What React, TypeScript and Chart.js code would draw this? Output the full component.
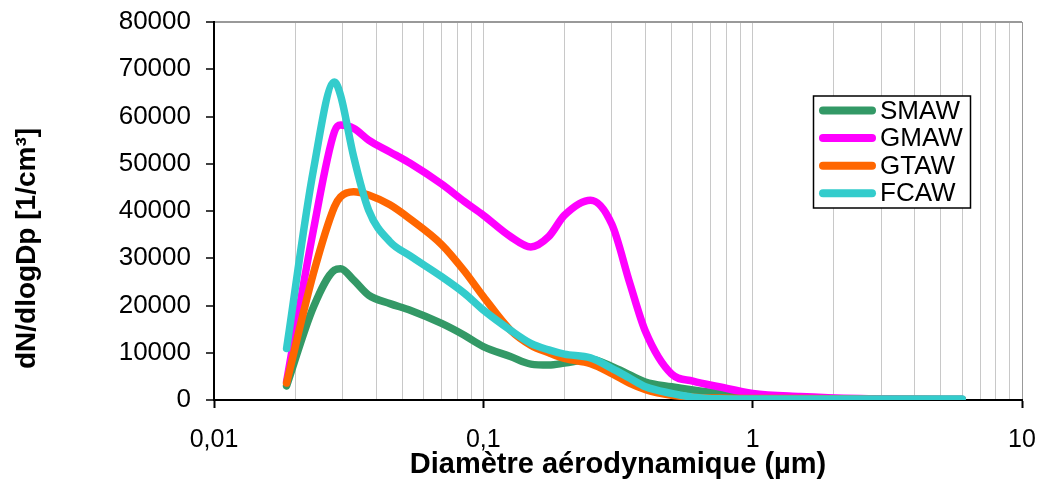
import React, { useEffect, useRef } from 'react';
import { Chart, registerables } from 'chart.js';

Chart.register(...registerables);

const FONT = "'Liberation Sans', Arial, Helvetica, sans-serif";

// Aerodynamic diameter (µm) of the sampled points
const diameters = [
  0.0186, 0.0234, 0.028, 0.0295, 0.033, 0.0375, 0.045, 0.0535, 0.07, 0.085,
  0.1, 0.126, 0.15, 0.175, 0.2, 0.25, 0.3, 0.35, 0.4, 0.5, 0.6, 0.75, 1.0, 1.5, 2.5, 4, 6,
];

// dN/dlogDp [1/cm³] per process
const smaw = [
  3000, 19700, 27500, 27800, 25400, 22200, 20400, 19000, 16200, 13700,
  11300, 9200, 7600, 7400, 7800, 8600, 7100, 5300, 3800, 2800, 2100, 1400, 600, 250, 150, 100, 100,
];
const gmaw = [
  3900, 36000, 56800, 58200, 57500, 55000, 52500, 50100, 45700, 42000,
  39100, 34600, 32400, 34600, 39100, 42300, 37200, 24700, 14500, 5500, 4000, 2800, 1400, 750, 300, 150, 100,
];
const gtaw = [
  3600, 26800, 40900, 43000, 44100, 43400, 41300, 38300, 32900, 27300,
  21900, 14800, 11600, 10000, 8800, 7700, 5600, 3500, 2200, 1000, 600, 400, 300, 300, 200, 150, 100,
];
const fcaw = [
  10900, 48700, 67300, 64500, 51500, 40200, 33500, 30500, 26100, 22600,
  19050, 14800, 12000, 10600, 9700, 8900, 6700, 4600, 2800, 1400, 600, 250, 200, 200, 200, 200, 200,
];

const seriesLabels = ['SMAW', 'GMAW', 'GTAW', 'FCAW'];
const seriesColors = ['#339966', '#FF00FF', '#FF6600', '#33CCCC'];

const xMajorTicks = [0.01, 0.1, 1, 10];
const xMajorLabels = ['0,01', '0,1', '1', '10'];
const xMinorMultipliers = [1, 2, 3, 4, 5, 6, 7, 8, 9];
const yMin = 0;
const yMax = 80000;
const yStep = 10000;

const xAxisTitle = 'Diamètre aérodynamique (µm)';
const yAxisTitle = 'dN/dlogDp [1/cm³]';

const close = (a: number, b: number) => Math.abs(a - b) / Math.abs(b) < 1e-6;
const majorIndex = (v: number) => xMajorTicks.findIndex((m) => close(v, m));

const overlayPlugin = {
  id: 'overlay',
  afterDraw(chart: any) {
    const ctx = chart.ctx as CanvasRenderingContext2D;
    ctx.save();
    // legend box
    const bx = 813.5, by = 96, bw = 157, bh = 112;
    ctx.fillStyle = '#ffffff';
    ctx.fillRect(bx, by, bw, bh);
    ctx.strokeStyle = '#000';
    ctx.lineWidth = 1.5;
    ctx.strokeRect(bx, by, bw, bh);
    chart.data.datasets.forEach((ds: any, i: number) => {
      const y = 110.5 + i * 27.6;
      ctx.strokeStyle = ds.borderColor;
      ctx.lineWidth = 8;
      ctx.lineCap = 'round';
      ctx.beginPath();
      ctx.moveTo(823, y);
      ctx.lineTo(872, y);
      ctx.stroke();
      ctx.fillStyle = '#000';
      ctx.font = `26px ${FONT}`;
      ctx.textAlign = 'left';
      ctx.textBaseline = 'middle';
      ctx.fillText(ds.label, 880, y + 1);
    });
    // y-axis title
    ctx.translate(27, 248.5);
    ctx.rotate(-Math.PI / 2);
    ctx.font = `bold 28px ${FONT}`;
    ctx.textAlign = 'center';
    ctx.textBaseline = 'middle';
    ctx.fillStyle = '#000';
    ctx.fillText(yAxisTitle, 0, 0);
    ctx.restore();
  },
};

export default function App() {
  const ref = useRef<HTMLCanvasElement | null>(null);

  useEffect(() => {
    const canvas = ref.current;
    if (!canvas) return;
    const values = [smaw, gmaw, gtaw, fcaw];
    const datasets = seriesLabels.map((label, i) => ({
      label,
      data: diameters.map((d, j) => ({ x: d, y: values[i][j] })),
      borderColor: seriesColors[i],
      backgroundColor: seriesColors[i],
      borderWidth: 7.5,
      pointRadius: 0,
      pointHoverRadius: 0,
      cubicInterpolationMode: 'monotone' as const,
      borderCapStyle: 'round' as const,
      borderJoinStyle: 'round' as const,
      fill: false,
      order: seriesLabels.length - i,
    }));

    const xTicks: number[] = [];
    for (let k = 0; k < xMajorTicks.length - 1; k++) {
      xMinorMultipliers.forEach((m) => xTicks.push(+(m * xMajorTicks[k]).toPrecision(6)));
    }
    xTicks.push(xMajorTicks[xMajorTicks.length - 1]);

    const chart = new Chart(canvas, {
      type: 'line',
      data: { datasets },
      options: {
        responsive: false,
        animation: false,
        devicePixelRatio: 1,
        layout: { padding: { top: 22, right: 17, left: 0, bottom: 0 } },
        plugins: {
          legend: { display: false },
          tooltip: { enabled: false },
        },
        scales: {
          x: {
            type: 'logarithmic',
            position: 'bottom',
            min: xMajorTicks[0],
            max: xMajorTicks[xMajorTicks.length - 1],
            afterBuildTicks: (s: any) => {
              s.ticks = xTicks.map((v) => ({ value: v }));
            },
            afterFit: (s: any) => {
              s.height = 82;
              s.paddingLeft = 0;
              s.paddingRight = 0;
            },
            ticks: {
              autoSkip: false,
              maxRotation: 0,
              minRotation: 0,
              padding: 17,
              color: '#000',
              font: { family: FONT, size: 25 },
              callback: (v: any) => {
                const k = majorIndex(Number(v));
                return k >= 0 ? xMajorLabels[k] : '';
              },
            },
            grid: {
              color: (c: any) => (c.tick && close(c.tick.value, 10) ? '#999999' : '#c8c8c8'),
              lineWidth: 1,
              tickLength: 8,
              tickWidth: 2,
              tickColor: (c: any) => (c.tick && majorIndex(c.tick.value) >= 0 ? '#000' : 'rgba(0,0,0,0)'),
            },
            border: { color: '#000', width: 2 },
            title: {
              display: true,
              text: xAxisTitle,
              color: '#000',
              font: { family: FONT, size: 29, weight: 'bold' },
              padding: { top: 0, bottom: 0 },
            },
          },
          y: {
            type: 'linear',
            min: yMin,
            max: yMax,
            afterFit: (s: any) => {
              s.width = 214;
              s.paddingTop = 0;
              s.paddingBottom = 0;
            },
            ticks: {
              stepSize: yStep,
              padding: 15,
              color: '#000',
              font: { family: FONT, size: 26 },
              callback: (v: any) => String(v),
            },
            grid: {
              color: (c: any) => (c.tick && c.tick.value === yMax ? '#999999' : 'rgba(0,0,0,0)'),
              lineWidth: 2,
              tickLength: 8,
              tickWidth: 1.5,
              tickColor: '#000',
            },
            border: { color: '#000', width: 2 },
          },
        },
      } as any,
      plugins: [overlayPlugin],
    });
    return () => chart.destroy();
  }, []);

  return (
    <div style={{ position: 'fixed', left: 0, top: 0, width: 1039, height: 482, background: '#fff' }}>
      <canvas ref={ref} width={1039} height={482} style={{ display: 'block' }} />
    </div>
  );
}
